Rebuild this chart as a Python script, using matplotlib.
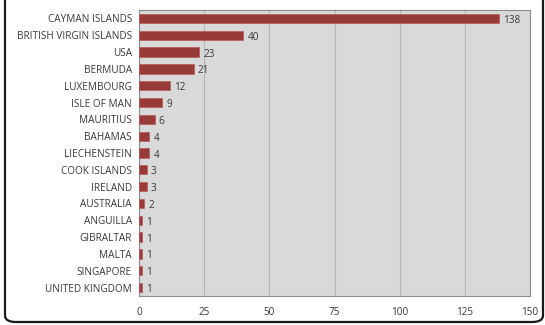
import matplotlib.pyplot as plt
from matplotlib.patches import FancyBboxPatch

countries = ["CAYMAN ISLANDS", "BRITISH VIRGIN ISLANDS", "USA", "BERMUDA",
             "LUXEMBOURG", "ISLE OF MAN", "MAURITIUS", "BAHAMAS", "LIECHENSTEIN",
             "COOK ISLANDS", "IRELAND", "AUSTRALIA", "ANGUILLA", "GIBRALTAR",
             "MALTA", "SINGAPORE", "UNITED KINGDOM"]
counts = [138, 40, 23, 21, 12, 9, 6, 4, 4, 3, 3, 2, 1, 1, 1, 1, 1]
xticks = [0, 25, 50, 75, 100, 125, 150]

plt.rcParams['font.family'] = ['Open Sans', 'DejaVu Sans']
text_col = "#3a3a3a"

fig = plt.figure(figsize=(5.45, 3.25), dpi=100)
ax = fig.add_axes([139/545, 1 - 296/325, (530 - 139)/545, (296 - 10)/325])

# rounded frame around the chart
frame = FancyBboxPatch((5/545, 3/325), (543 - 5)/545, 1.2, transform=fig.transFigure,
                       boxstyle="round,pad=0,rounding_size=0.02", fill=False,
                       edgecolor="#1a1a1a", linewidth=1.6, clip_on=False)
fig.patches.append(frame)

y = list(range(len(countries)))
ax.barh(y, counts, height=0.55, color="#983a38", edgecolor="#b55a57", linewidth=0.5, zorder=3)
for yi, v in zip(y, counts):
    ax.text(v + 1.6, yi + 0.12, str(v), va="center", ha="left", fontsize=7.2, color=text_col)

ax.set_ylim(len(countries) - 0.5, -0.5)
ax.set_xlim(0, 150)
ax.set_xticks(xticks)
ax.set_yticks(y)
ax.set_yticklabels(countries)
ax.set_facecolor("#d9d9d9")
ax.grid(axis="x", color="#b5b5b5", linewidth=0.8, zorder=0)
ax.tick_params(length=0, labelsize=7.2, colors=text_col)
ax.tick_params(axis="x", pad=8)
ax.tick_params(axis="y", pad=5)
for s in ax.spines.values():
    s.set_color("#8c8c8c")
    s.set_linewidth(0.8)

fig.savefig("out.png", dpi=100)
